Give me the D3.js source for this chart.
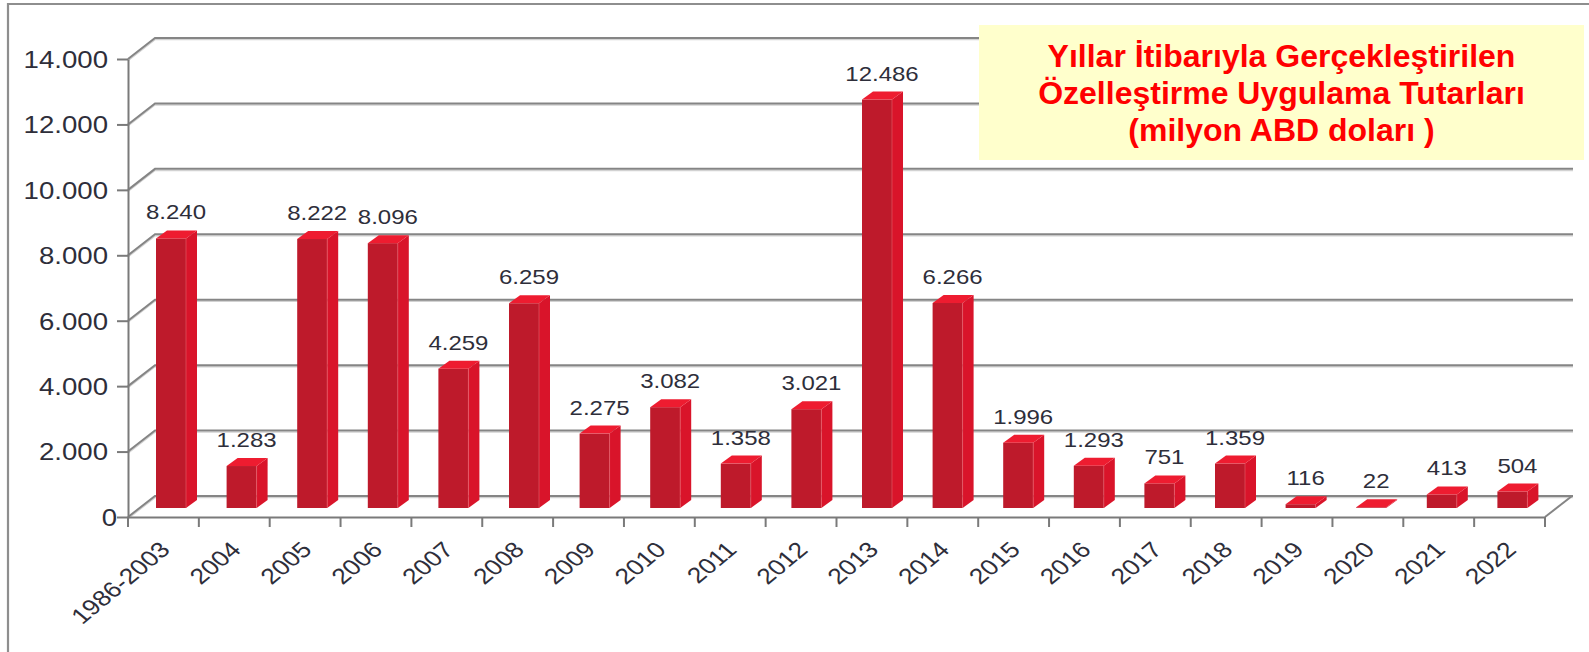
<!DOCTYPE html>
<html lang="tr">
<head>
<meta charset="utf-8">
<title>Özelleştirme Uygulama Tutarları</title>
<script src="https://cdn.jsdelivr.net/npm/d3@7"></script>
<style>
  html, body { margin: 0; padding: 0; background: #ffffff; }
  svg { display: block; }
  text { font-family: "Liberation Sans", Arial, Helvetica, sans-serif; }
</style>
</head>
<body>
<svg id="chart" width="1589" height="652"></svg>
<script>
// Privatisation proceeds by year, million USD
const categories = ["1986-2003", "2004", "2005", "2006", "2007", "2008", "2009", "2010", "2011", "2012",
                    "2013", "2014", "2015", "2016", "2017", "2018", "2019", "2020", "2021", "2022"];
const values = [8240, 1283, 8222, 8096, 4259, 6259, 2275, 3082, 1358, 3021,
                12486, 6266, 1996, 1293, 751, 1359, 116, 22, 413, 504];
const yTicks = [0, 2000, 4000, 6000, 8000, 10000, 12000, 14000];
const titleLines = ["Yıllar İtibarıyla Gerçekleştirilen",
                    "Özelleştirme Uygulama Tutarları",
                    "(milyon ABD doları )"];

// Turkish number format: dot as thousands separator
const trLocale = d3.formatLocale({ decimal: ",", thousands: ".", grouping: [3], currency: ["", ""] });
const fmt = trLocale.format(",d");

const svg = d3.select("#chart");

// Outer frame
svg.append("path")
  .attr("d", "M8,656 L8,4 L1592,4")
  .attr("fill", "none")
  .attr("stroke", "#8e8e8e")
  .attr("stroke-width", 2.2);

// Scales: front plane of the pseudo-3D box
const y = d3.scaleLinear().domain([0, 14000]).range([517, 59]);
const x = d3.scaleBand().domain(categories).range([128, 1545]);
// bars stand on a plane set back into the floor
const xBar = d3.scaleBand().domain(categories).range([140, 1552]);

const depth = { dx: 27, dy: -21 };      // floor depth
const barLift = 9;                      // bars sit this far up from the front edge
const barW = 30;                        // front face width
const barOffset = 16;                   // front face start inside its band
const barDepth = { dx: 11, dy: -8 };    // bar side / top depth
const backRight = 1573;
const labelColor = "#2e2e3a";

// Back wall gridlines with the left-wall diagonals
const grid = svg.append("g");
grid.selectAll("path.shadow")
  .data(yTicks)
  .join("path")
  .attr("class", "shadow")
  .attr("d", d => `M128,${y(d) + 1.6} L${128 + depth.dx},${y(d) + depth.dy + 1.6} L${backRight},${y(d) + depth.dy + 1.6}`)
  .attr("fill", "none")
  .attr("stroke", "#d2d2d2")
  .attr("stroke-width", 1.4);
grid.selectAll("path.line")
  .data(yTicks)
  .join("path")
  .attr("class", "line")
  .attr("d", d => `M128,${y(d)} L${128 + depth.dx},${y(d) + depth.dy} L${backRight},${y(d) + depth.dy}`)
  .attr("fill", "none")
  .attr("stroke", "#858585")
  .attr("stroke-width", 2);

// Floor right edge
grid.append("path")
  .attr("d", `M${x.range()[1]},${y(0)} L${x.range()[1] + depth.dx},${y(0) + depth.dy}`)
  .attr("fill", "none")
  .attr("stroke", "#858585")
  .attr("stroke-width", 2);

// Y axis
const yAxis = svg.append("g")
  .attr("transform", "translate(128,0)")
  .call(d3.axisLeft(y).tickValues(yTicks).tickFormat(fmt).tickSize(11).tickSizeOuter(0));
yAxis.select(".domain").attr("stroke", "#7a7a7a").attr("stroke-width", 2);
yAxis.selectAll(".tick line").attr("stroke", "#7a7a7a").attr("stroke-width", 2);
yAxis.selectAll(".tick text")
  .attr("x", null)
  .attr("dy", "0.36em")
  .attr("transform", d => `translate(${d === 0 ? -11 : -20},0) scale(1.2,1)`)
  .attr("font-size", 23)
  .attr("font-family", "'Liberation Sans', Arial, sans-serif")
  .attr("fill", labelColor);

// X axis: front floor edge, ticks on band boundaries, rotated labels
const xAxis = svg.append("g")
  .attr("transform", `translate(0,${y(0)})`)
  .call(d3.axisBottom(x).tickSize(0).tickPadding(0).tickSizeOuter(0));
xAxis.select(".domain").attr("stroke", "#7a7a7a").attr("stroke-width", 2);
xAxis.selectAll(".tick text")
  .attr("y", null)
  .attr("dy", null)
  .attr("text-anchor", "end")
  .attr("transform", "translate(8,34) scale(1.2,1) rotate(-45)")
  .attr("font-size", 22)
  .attr("font-family", "'Liberation Sans', Arial, sans-serif")
  .attr("fill", labelColor);

const boundaries = d3.range(categories.length + 1).map(i => x.range()[0] + i * x.step());
xAxis.selectAll("line.bound")
  .data(boundaries)
  .join("line")
  .attr("class", "bound")
  .attr("x1", d => d).attr("x2", d => d)
  .attr("y1", 0).attr("y2", 10)
  .attr("stroke", "#7a7a7a")
  .attr("stroke-width", 2);

// Title box
const boxX = 979, boxY = 25, boxW = 605, boxH = 135;
svg.append("rect")
  .attr("x", boxX).attr("y", boxY)
  .attr("width", boxW).attr("height", boxH)
  .attr("fill", "#ffffcc");
svg.append("g")
  .selectAll("text")
  .data(titleLines)
  .join("text")
  .attr("x", boxX + boxW / 2)
  .attr("y", (d, i) => 67 + i * 37)
  .attr("text-anchor", "middle")
  .attr("font-size", 32)
  .attr("font-weight", "bold")
  .attr("fill", "#ff0000")
  .text(d => d);

// Bars
const data = categories.map((c, i) => ({ cat: c, value: values[i] }));
const bars = svg.append("g")
  .selectAll("g.bar")
  .data(data)
  .join("g")
  .attr("class", "bar");

const faceX = d => xBar(d.cat) + barOffset;
const barTop = d => y(d.value) - barLift;
const barBottom = y(0) - barLift;

bars.append("rect")
  .attr("x", faceX)
  .attr("y", barTop)
  .attr("width", barW)
  .attr("height", d => barBottom - barTop(d))
  .attr("fill", "#be1a2b");

bars.append("path")
  .attr("d", d => {
    const x0 = faceX(d) + barW, t = barTop(d);
    return `M${x0},${t} L${x0 + barDepth.dx},${t + barDepth.dy} L${x0 + barDepth.dx},${barBottom + barDepth.dy} L${x0},${barBottom} Z`;
  })
  .attr("fill", "#d9142a");

bars.append("path")
  .attr("d", d => {
    const x0 = faceX(d), t = barTop(d);
    return `M${x0},${t} L${x0 + barW},${t} L${x0 + barW + barDepth.dx},${t + barDepth.dy} L${x0 + barDepth.dx},${t + barDepth.dy} Z`;
  })
  .attr("fill", "#ee1c30");

bars.append("line")
  .attr("x1", d => faceX(d) + barW).attr("x2", d => faceX(d) + barW)
  .attr("y1", barTop).attr("y2", barBottom)
  .attr("stroke", "#e8606c")
  .attr("stroke-width", 1)
  .attr("stroke-opacity", 0.6);

// Value labels
bars.append("text")
  .attr("text-anchor", "middle")
  .attr("transform", d => `translate(${faceX(d) + 20},${y(d.value) - 28}) scale(1.2,1)`)
  .attr("font-size", 20)
  .attr("fill", labelColor)
  .text(d => fmt(d.value));
</script>
</body>
</html>
